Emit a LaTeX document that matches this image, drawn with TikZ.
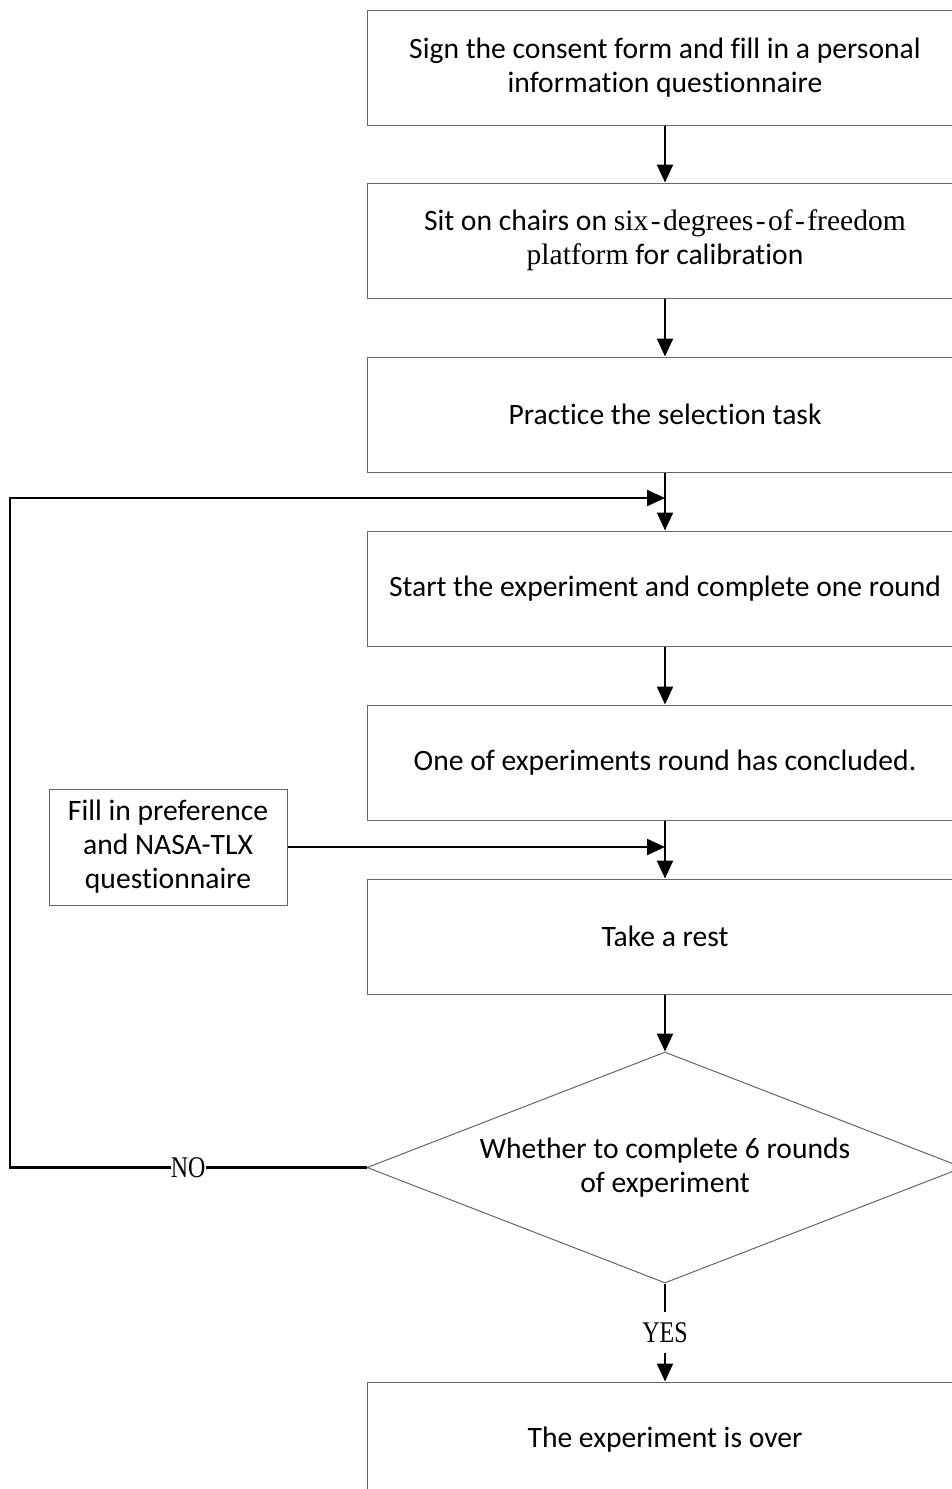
\documentclass[tikz,border=0pt]{standalone}
\usepackage{graphicx}
\usepackage{fontspec}
\setmainfont{Carlito}[Ligatures={NoCommon}]
\newfontfamily\romanfont{Liberation Serif}
\usetikzlibrary{shapes.geometric,arrows.meta}

\tikzset{
  stage/.style={draw=black!60, line width=0.5pt, minimum width=298pt, minimum height=57.5pt,
    inner sep=0pt, align=center, font=\fontsize{14.8}{17}\selectfont},
  flow/.style={line width=1.1pt, -{Triangle[length=9pt,width=8pt]}},
  answer/.style={fill=white, inner xsep=0pt, inner ysep=5pt, font=\romanfont\fontsize{15}{15}\selectfont}
}
\newcommand{\narrow}[1]{\scalebox{0.8}[1]{#1}}
\newcommand{\dash}{\kern1.2pt-\kern1.2pt}

\begin{document}
\begin{tikzpicture}[x=0.5pt,y=-0.5pt]
	\useasboundingbox (0,0) rectangle (952,1489);
	\clip (0,0) rectangle (952,1489);
	\node[stage] (consent) at (665,67.5) {Sign the consent form and fill in a personal\\information questionnaire};
	\node[stage] (seat) at (665,240.5) {Sit on chairs on {\romanfont six\dash degrees\dash of\dash freedom}\\{\romanfont platform} for calibration};
	\node[stage] (practice) at (665,414.5) {Practice the selection task};
	\node[stage] (round) at (665,588.5) {Start the experiment and complete one round};
	\node[stage] (concluded) at (665,762.5) {One of experiments round has concluded.};
	\node[stage, minimum width=119pt, minimum height=58pt] (survey) at (168,847) {Fill in preference\\and NASA-TLX\\questionnaire};
	\node[stage] (rest) at (665,936.5) {Take a rest};
	\node[stage, diamond, aspect=2.58, minimum width=298pt, minimum height=115.5pt] (check) at (665,1167.5)
		{Whether to complete 6 rounds\\of experiment};
	\node[stage] (over) at (665,1439.5) {The experiment is over};
	\coordinate (merge) at (665,498);
	\coordinate (join) at (665,847);
	\coordinate (corner) at (10,1167.5);

	\draw[flow] (consent) -- (seat);
	\draw[flow] (seat) -- (practice);
	\draw[flow] (practice) -- (round);
	\draw[flow] (round) -- (concluded);
	\draw[flow] (concluded) -- (rest);
	\draw[flow] (survey.east) -- (join);
	\draw[flow] (rest) -- (check.north);
	\draw[flow] (check.west) -- node[answer] {\narrow{NO}} (corner) |- (merge);
	\draw[flow] (check.south) -- node[answer] {\narrow{YES}} (over.north);
\end{tikzpicture}
\end{document}
